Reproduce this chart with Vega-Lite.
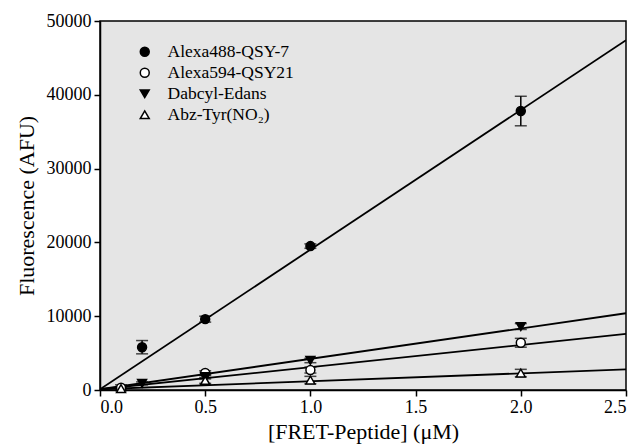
{
  "$schema": "https://vega.github.io/schema/vega-lite/v6.json",
  "autosize": "none",
  "width": 526,
  "height": 369,
  "padding": {"left": 100, "top": 21, "right": 13, "bottom": 56},
  "background": "white",
  "config": {
    "font": "Liberation Serif",
    "view": {"fill": "#e5e5e5", "stroke": "black", "strokeWidth": 1.5},
    "axis": {
      "domainColor": "black", "domainWidth": 1.5, "tickColor": "black", "tickWidth": 1.5, "tickSize": 6,
      "labelFont": "Liberation Serif", "labelFontSize": 18, "labelColor": "black",
      "titleFont": "Liberation Serif", "titleFontSize": 22, "titleFontWeight": "normal", "titleColor": "black",
      "grid": false
    }
  },
  "datasets": {
    "pts": [
      {"series": "Alexa488-QSY-7", "x": 0.2, "y": 5800, "err": 900},
      {"series": "Alexa488-QSY-7", "x": 0.5, "y": 9600, "err": 400},
      {"series": "Alexa488-QSY-7", "x": 1.0, "y": 19500, "err": 300},
      {"series": "Alexa488-QSY-7", "x": 2.0, "y": 37800, "err": 2000},
      {"series": "Alexa594-QSY21", "x": 0.1, "y": 300, "err": 400},
      {"series": "Alexa594-QSY21", "x": 0.5, "y": 2300, "err": 300},
      {"series": "Alexa594-QSY21", "x": 1.0, "y": 2700, "err": 400},
      {"series": "Alexa594-QSY21", "x": 2.0, "y": 6400, "err": 600},
      {"series": "Dabcyl-Edans", "x": 0.2, "y": 900, "err": 200},
      {"series": "Dabcyl-Edans", "x": 0.5, "y": 1800, "err": 300},
      {"series": "Dabcyl-Edans", "x": 1.0, "y": 4000, "err": 300},
      {"series": "Dabcyl-Edans", "x": 2.0, "y": 8600, "err": 400},
      {"series": "Abz-Tyr(NO₂)", "x": 0.1, "y": 200, "err": 200},
      {"series": "Abz-Tyr(NO₂)", "x": 0.5, "y": 1300, "err": 400},
      {"series": "Abz-Tyr(NO₂)", "x": 1.0, "y": 1350, "err": 500},
      {"series": "Abz-Tyr(NO₂)", "x": 2.0, "y": 2300, "err": 500}
    ],
    "fits": [
      {"series": "Alexa488-QSY-7", "x": 0, "y": 100},
      {"series": "Alexa488-QSY-7", "x": 2.5, "y": 47400},
      {"series": "Alexa594-QSY21", "x": 0, "y": 100},
      {"series": "Alexa594-QSY21", "x": 2.5, "y": 7600},
      {"series": "Dabcyl-Edans", "x": 0, "y": 100},
      {"series": "Dabcyl-Edans", "x": 2.5, "y": 10400},
      {"series": "Abz-Tyr(NO₂)", "x": 0, "y": 100},
      {"series": "Abz-Tyr(NO₂)", "x": 2.5, "y": 2800}
    ]
  },
  "encoding": {
    "x": {"field": "x", "type": "quantitative", "scale": {"domain": [0, 2.5], "nice": false, "zero": false},
      "axis": {"values": [0, 0.5, 1, 1.5, 2, 2.5], "format": ".1f", "title": "[FRET-Peptide] (μM)", "titlePadding": 5, "labelPadding": 2}},
    "y": {"field": "y", "type": "quantitative", "scale": {"domain": [0, 50000], "nice": false},
      "axis": {"values": [0, 10000, 20000, 30000, 40000, 50000], "format": "d", "title": "Fluorescence (AFU)", "titlePadding": 8, "labelPadding": 3}}
  },
  "layer": [
    {
      "data": {"name": "fits"},
      "mark": {"type": "line", "color": "black", "strokeWidth": 1.8, "clip": true},
      "encoding": {"detail": {"field": "series"}}
    },
    {
      "data": {"name": "pts"},
      "mark": {"type": "errorbar", "color": "black", "thickness": 1.5, "ticks": {"size": 12, "thickness": 1.5, "color": "black"}},
      "encoding": {"yError": {"field": "err"}}
    },
    {
      "data": {"name": "pts"},
      "mark": {"type": "point", "filled": true, "stroke": "black", "strokeWidth": 1.5, "size": 80, "opacity": 1},
      "encoding": {
        "shape": {"field": "series", "type": "nominal",
          "scale": {"domain": ["Alexa488-QSY-7", "Alexa594-QSY21", "Dabcyl-Edans", "Abz-Tyr(NO₂)"], "range": ["circle", "circle", "triangle-down", "triangle-up"]},
          "legend": {"title": null, "orient": "none", "legendX": 36, "legendY": 22, "labelFontSize": 17.5, "labelFont": "Liberation Serif", "labelColor": "black", "symbolSize": 80, "rowPadding": 2, "labelOffset": 14, "symbolOpacity": 1,
            "encode": {"symbols": {"update": {"stroke": {"value": "black"}, "strokeWidth": {"value": 1.5}}}}}},
        "fill": {"field": "series", "type": "nominal",
          "scale": {"domain": ["Alexa488-QSY-7", "Alexa594-QSY21", "Dabcyl-Edans", "Abz-Tyr(NO₂)"], "range": ["black", "white", "black", "white"]},
          "legend": {"title": null, "orient": "none", "legendX": 36, "legendY": 22, "labelFontSize": 17.5, "labelFont": "Liberation Serif", "labelColor": "black", "symbolSize": 80, "rowPadding": 2, "labelOffset": 14, "symbolOpacity": 1,
            "encode": {"symbols": {"update": {"stroke": {"value": "black"}, "strokeWidth": {"value": 1.5}}}}}}
      }
    }
  ]
}
